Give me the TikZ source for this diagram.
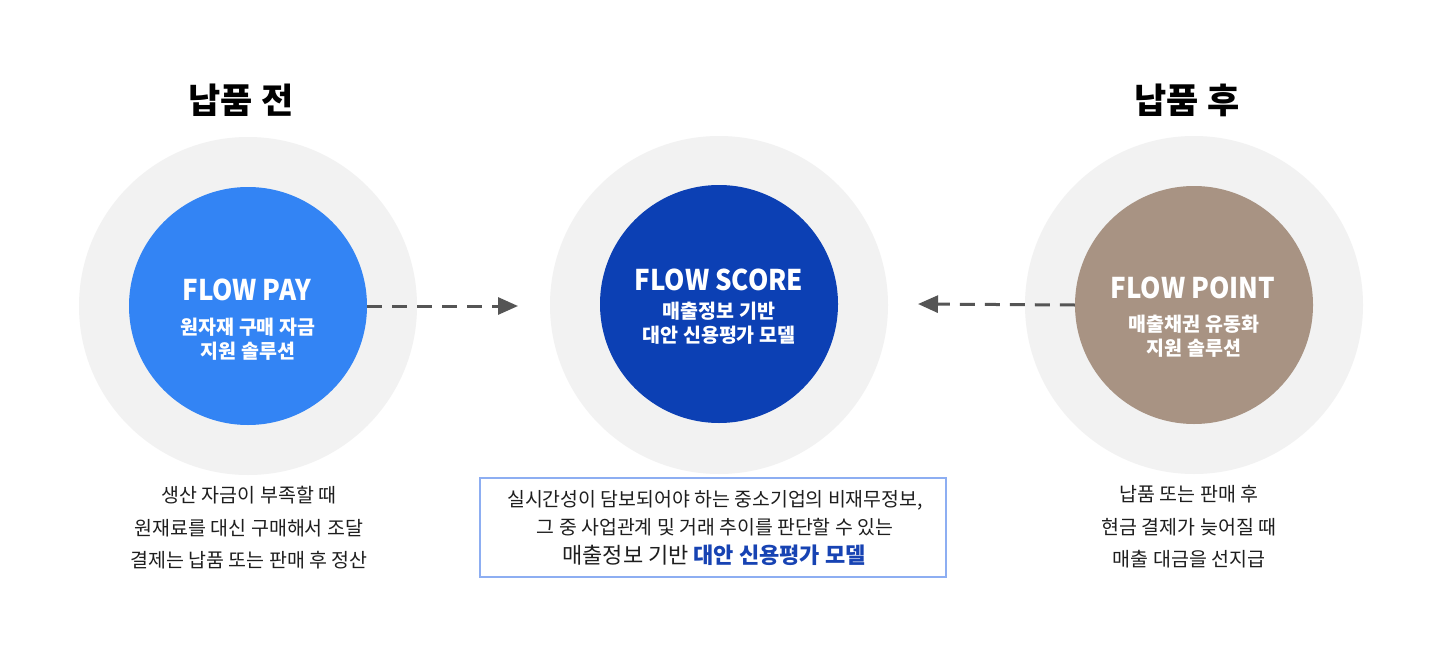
\documentclass[tikz,border=0pt]{standalone}
\usepackage{fontspec}
\setmainfont{Noto Sans CJK KR}
\usetikzlibrary{arrows.meta}
\definecolor{ring}{HTML}{F2F2F2}
\definecolor{payblue}{HTML}{3384F4}
\definecolor{scoreblue}{HTML}{0C40B4}
\definecolor{pointbrown}{HTML}{A89383}
\definecolor{arrowgray}{HTML}{555555}
\definecolor{boxline}{HTML}{8DAEF2}
\definecolor{hl}{HTML}{1743B3}
\definecolor{txt}{HTML}{1E1E1E}
\newcommand{\narrow}[1]{\scalebox{0.91}[1]{#1}}
\begin{document}
\begin{tikzpicture}[x=1pt,y=-1pt,
  outer/.style={circle,fill=ring,minimum size=338pt,inner sep=0pt},
  inner/.style={circle,minimum size=238pt,inner sep=0pt},
  heading/.style={font=\fontsize{35}{40}\selectfont\bfseries,text=black},
  ctitle/.style={font=\fontsize{28.5}{32}\selectfont\bfseries,text=white},
  csub/.style={font=\fontsize{19.5}{24}\selectfont\bfseries,text=white,align=center},
  desc/.style={font=\fontsize{19.5}{32.5}\selectfont,text=txt,align=center},
  dasharrow/.style={draw=arrowgray,line width=3pt,dash pattern=on 15pt off 10pt,-{Triangle[length=20pt,width=17pt]}}
]
\useasboundingbox (0,0) rectangle (1440,669);
\fill[white] (0,0) rectangle (1440,669);

% headings
\node[heading] (hbefore) at (241,100) {납품 전};
\node[heading] (hafter) at (1187,100) {납품 후};

% circles
\node[outer] (payout) at (248,306) {};
\node[outer] (scoreout) at (719,305) {};
\node[outer] (pointout) at (1194,305) {};
\node[inner,fill=payblue] (pay) at (248,306) {};
\node[inner,fill=scoreblue] (score) at (719,304) {};
\node[inner,fill=pointbrown] (point) at (1194,305) {};

% circle texts
\node[ctitle] (payt) at (247,290) {\narrow{FLOW PAY}};
\node[csub] (pays) at (248,339) {원자재 구매 자금\\지원 솔루션};
\node[ctitle] (scoret) at (719,280) {\narrow{FLOW SCORE}};
\node[csub] (scores) at (719,323) {매출정보 기반\\대안 신용평가 모델};
\node[ctitle] (pointt) at (1193,288) {\narrow{FLOW POINT}};
\node[csub] (points) at (1194,336) {매출채권 유동화\\지원 솔루션};

% arrows
\coordinate (tipL) at (518,306);
\coordinate (tipR) at (918,304);
\draw[dasharrow] (pay.east) -- (tipL);
\draw[dasharrow] (point.west) -- (tipR);

% descriptions
\node[desc] (dleft) at (249,528) {생산 자금이 부족할 때\\원재료를 대신 구매해서 조달\\결제는 납품 또는 판매 후 정산};
\node[desc] (dright) at (1189,527) {납품 또는 판매 후\\현금 결제가 늦어질 때\\매출 대금을 선지급};

% center box
\node[draw=boxline,line width=1.6pt,minimum width=466pt,minimum height=99pt,inner sep=0pt] (box) at (713,527.5) {};
\node[font=\fontsize{19.4}{28}\selectfont,text=txt,align=center] (btext1) at (715,513) {실시간성이 담보되어야 하는 중소기업의 비재무정보,\\그 중 사업관계 및 거래 추이를 판단할 수 있는};
\node[font=\fontsize{22}{26}\selectfont,text=txt] (btext2) at (714,555) {매출정보 기반 {\bfseries\color{hl}대안 신용평가 모델}};
\end{tikzpicture}
\end{document}
